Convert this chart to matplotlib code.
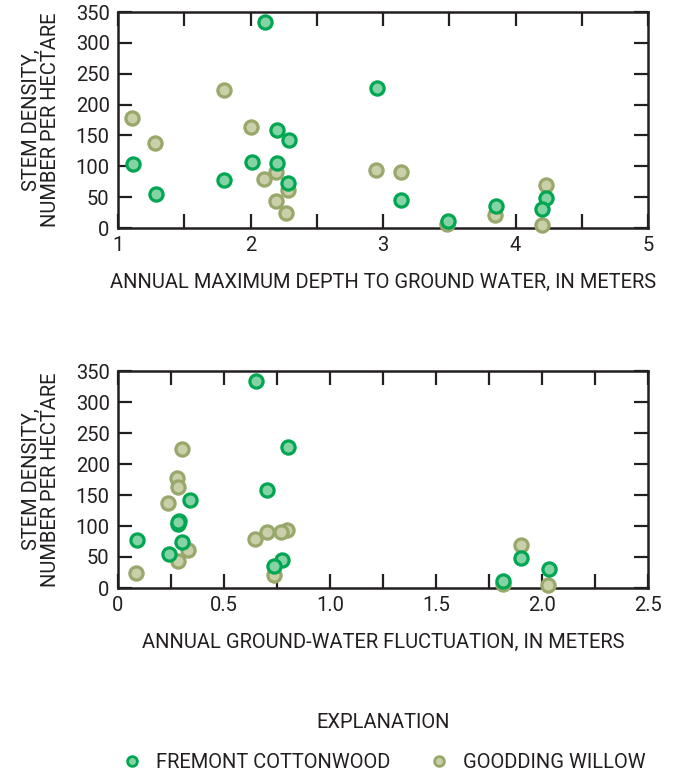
import matplotlib
matplotlib.use("Agg")
import matplotlib.pyplot as plt
from matplotlib.lines import Line2D
from matplotlib.ticker import MultipleLocator, FixedLocator

plt.rcParams['font.family'] = ['Roboto', 'DejaVu Sans']

# ---------------- Data ----------------
# Fremont cottonwood
cw_depth = [2.11, 2.956, 2.199, 2.293, 1.11, 2.015, 2.199, 1.80, 2.282, 1.288,
            3.136, 3.494, 3.855, 4.232, 4.20]
cw_fluct = [0.652, 0.803, 0.705, 0.338, 0.281, 0.288, 0.283, 0.089, 0.301, 0.241,
            0.774, 1.818, 0.737, 1.902, 2.032]
cw_density = [334, 227, 158, 142.5, 103, 107.5, 106, 78, 73.5, 55,
              45, 11, 36, 49, 30.5]

# Gooding willow
gw_depth = [1.797, 1.108, 2.007, 1.283, 2.95, 3.133, 2.193, 2.104, 2.285, 2.193,
            2.271, 4.227, 3.847, 3.483, 4.197]
gw_fluct = [0.30, 0.276, 0.285, 0.236, 0.796, 0.702, 0.771, 0.646, 0.332, 0.285,
            0.086, 1.90, 0.736, 1.816, 2.03]
gw_density = [224, 178, 163, 137, 94, 90, 90, 79, 61, 44,
              24, 70, 21, 6, 5]

cw_face, cw_edge = '#84d3a4', '#00a651'
gw_face, gw_edge = '#c9d0a9', '#98a76a'
ink = '#231f20'
fs = 14.5

fig = plt.figure(figsize=(6.75, 7.78), dpi=100)
W, H = 675, 778
ax1 = fig.add_axes([118 / W, 1 - 228 / H, 530 / W, 216 / H])
ax2 = fig.add_axes([118 / W, 1 - 588 / H, 530 / W, 217 / H])


def style(ax):
    ax.set_ylim(0, 350)
    ax.yaxis.set_major_locator(MultipleLocator(50))
    ax.tick_params(which='both', direction='in', length=10, width=1.6,
                   top=True, right=True, labelsize=fs, colors=ink, pad=6)
    for s in ax.spines.values():
        s.set_linewidth(1.8)
        s.set_color(ink)
    ax.set_ylabel('STEM DENSITY,\nNUMBER PER HECTARE', fontsize=fs,
                  color=ink, labelpad=11, linespacing=1.05)


def scatter(ax, x, y, face, edge):
    ax.plot(x, y, 'o', ms=9.5, mfc=face, mec=edge, mew=2.3, clip_on=False,
            zorder=3)


# ---------------- Top panel ----------------
scatter(ax1, gw_depth, gw_density, gw_face, gw_edge)
scatter(ax1, cw_depth, cw_density, cw_face, cw_edge)
ax1.set_xlim(1, 5)
ax1.xaxis.set_major_locator(MultipleLocator(1))
ax1.xaxis.set_minor_locator(MultipleLocator(0.5))
style(ax1)
ax1.set_xlabel('ANNUAL MAXIMUM DEPTH TO GROUND WATER, IN METERS',
               fontsize=fs, color=ink, labelpad=13)

# ---------------- Bottom panel ----------------
scatter(ax2, gw_fluct, gw_density, gw_face, gw_edge)
scatter(ax2, cw_fluct, cw_density, cw_face, cw_edge)
ax2.set_xlim(0, 2.5)
ax2.xaxis.set_major_locator(FixedLocator([0, 0.5, 1.0, 1.5, 2.0, 2.5]))
ax2.set_xticklabels(['0', '0.5', '1.0', '1.5', '2.0', '2.5'])
ax2.xaxis.set_minor_locator(MultipleLocator(0.25))
style(ax2)
ax2.set_xlabel('ANNUAL GROUND-WATER FLUCTUATION, IN METERS',
               fontsize=fs, color=ink, labelpad=13)

# ---------------- Explanation ----------------
fig.text(383 / W, 1 - 722 / H, 'EXPLANATION', ha='center', va='center',
         fontsize=fs, color=ink)
handles = [
    Line2D([], [], ls='', marker='o', ms=7, mfc=cw_face, mec=cw_edge, mew=2,
           label='FREMONT COTTONWOOD'),
    Line2D([], [], ls='', marker='o', ms=7, mfc=gw_face, mec=gw_edge, mew=2,
           label='GOODDING WILLOW'),
]
fig.legend(handles=handles, loc='center', bbox_to_anchor=(384 / W, 1 - 763 / H),
           ncol=2, frameon=False, fontsize=fs, handletextpad=0.7,
           columnspacing=1.9, handlelength=1.0, labelcolor=ink)

fig.savefig('out.png', dpi=100)
